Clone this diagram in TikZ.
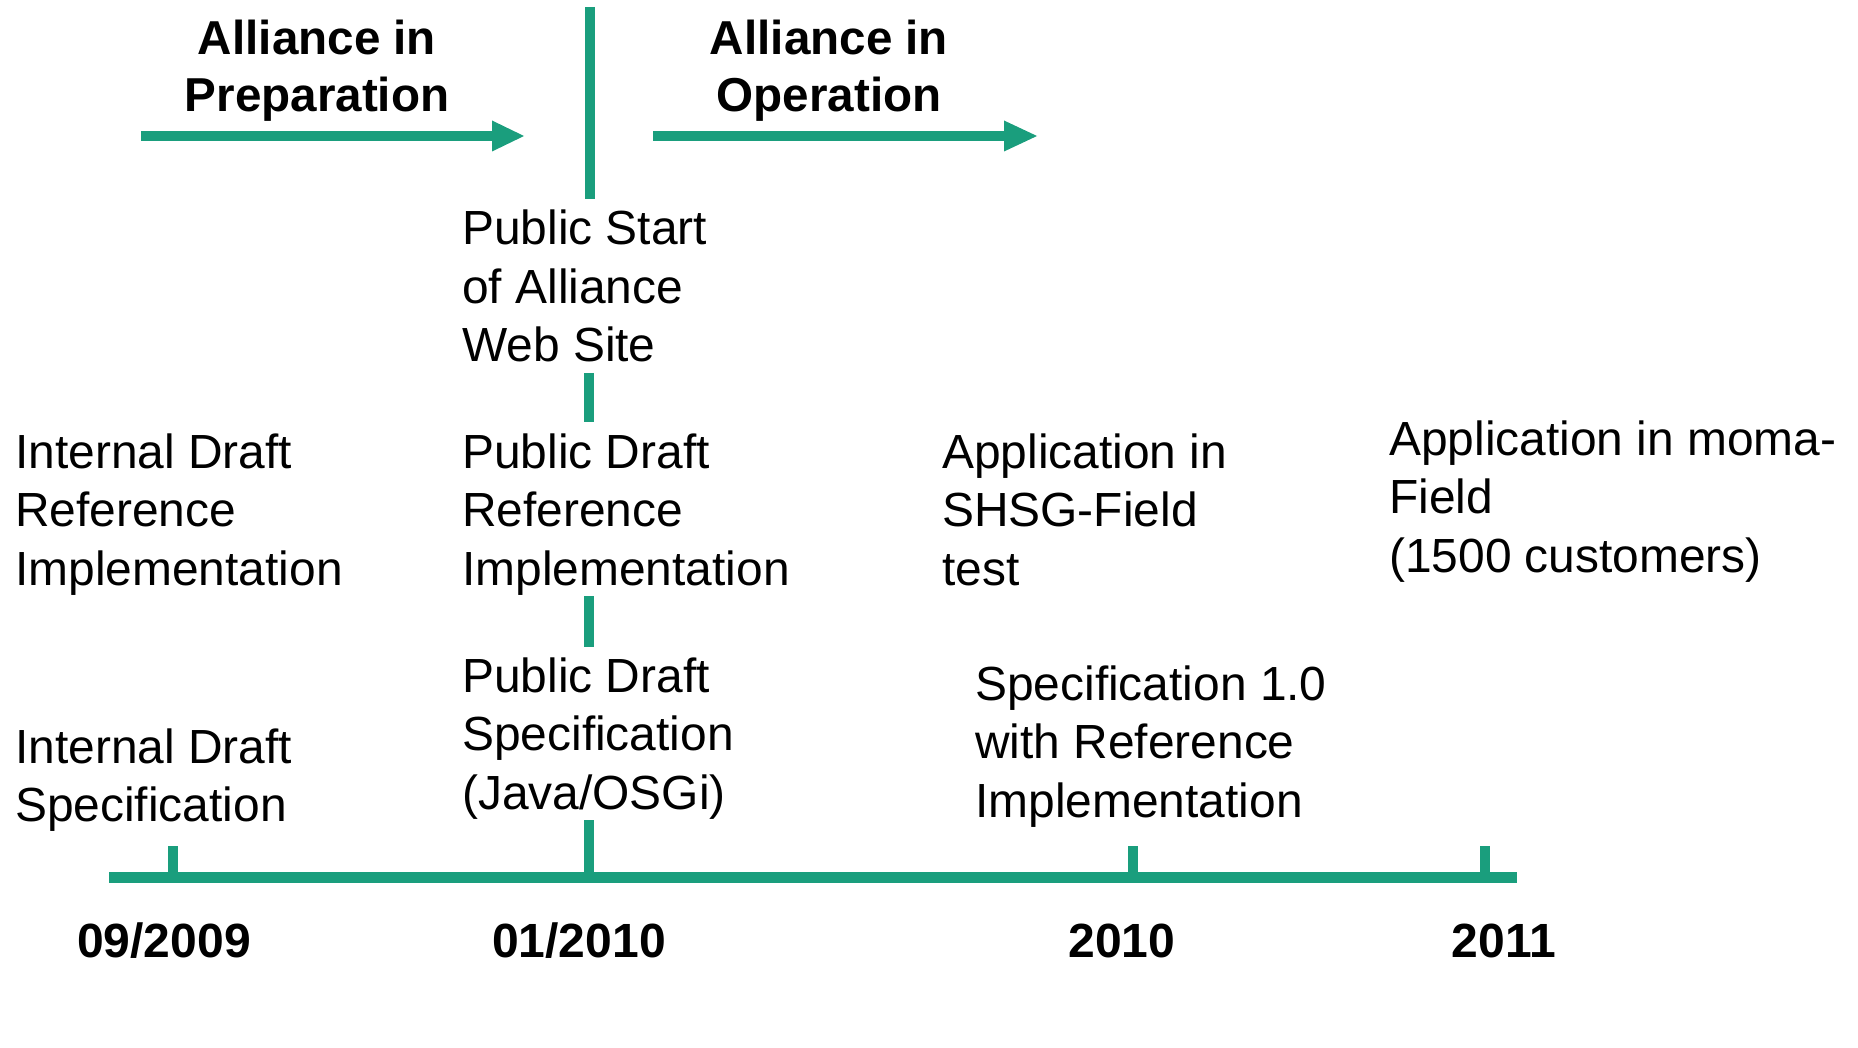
\documentclass[tikz,border=0pt]{standalone}
\usepackage{fontspec}
\setmainfont{Liberation Sans}
\definecolor{teal1}{HTML}{1A9E7D}
\tikzset{
  bar/.style={draw=teal1, line width=10.5pt},
  txt/.style={anchor=base west, inner sep=0pt, font=\fontsize{47.9}{58.5}\selectfont},
  ttl/.style={anchor=base, inner sep=0pt, align=center, font=\fontsize{47.6}{57}\selectfont\bfseries},
  date/.style={anchor=base, inner sep=0pt, font=\fontsize{48}{57}\selectfont\bfseries},
}
\newcommand{\lines}[1]{\begin{tabular}[t]{@{}l@{}}#1\end{tabular}}
\begin{document}
\begin{tikzpicture}[x=1pt,y=-1pt]
\useasboundingbox (0,0) rectangle (1858,1048);
% top divider and phase arrows
\draw[bar] (590,7) -- (590,199);
\draw[bar] (141,136) -- (494,136);
\fill[teal1] (492,120.5) -- (524,136) -- (492,151.5) -- cycle;
\draw[bar] (653,136) -- (1006,136);
\fill[teal1] (1004,120.5) -- (1037,136) -- (1004,151.5) -- cycle;
\node[ttl] (prep) at (317,55) {\tabular[t]{@{}c@{}}Alliance in\\Preparation\endtabular};
\node[ttl] (oper) at (829,55) {\tabular[t]{@{}c@{}}Alliance in\\Operation\endtabular};
% texts
\node[txt] (web) at (462,245) {\lines{Public Start\\of Alliance\\Web Site}};
\node[txt] (intref) at (15,468) {\lines{Internal Draft\\Reference\\Implementation}};
\node[txt] (pubref) at (462,468) {\lines{Public Draft\\Reference\\Implementation}};
\node[txt] (shsg) at (942,468) {\lines{Application in\\SHSG-Field\\test}};
\node[txt] (moma) at (1389,455) {\lines{Application in moma-\\Field\\(1500 customers)}};
\node[txt] (pubspec) at (462,692) {\lines{Public Draft\\Specification\\(Java/OSGi)}};
\node[txt] (intspec) at (15,763) {\lines{Internal Draft\\Specification}};
\node[txt] (spec) at (975,700) {\lines{Specification 1.0\\with Reference\\Implementation}};
% connectors on the 01/2010 column
\draw[bar] (589,373) -- (589,422);
\draw[bar] (589,596) -- (589,647);
% timeline
\coordinate (t0) at (173,877);
\coordinate (t1) at (589,877);
\coordinate (t2) at (1133,877);
\coordinate (t3) at (1485,877);
\draw[bar] (t0) -- ++(0,-31);
\draw[bar] (t1) -- ++(0,-57);
\draw[bar] (t2) -- ++(0,-31);
\draw[bar] (t3) -- ++(0,-31);
\draw[draw=teal1, line width=11pt] (109,877) -- (1517,877);
% dates
\node[date] (d0) at (164,957) {09/2009};
\node[date] (d1) at (579,957) {01/2010};
\node[date] (d2) at (1122,957) {2010};
\node[date] (d3) at (1504,957) {2011};
\end{tikzpicture}
\end{document}
